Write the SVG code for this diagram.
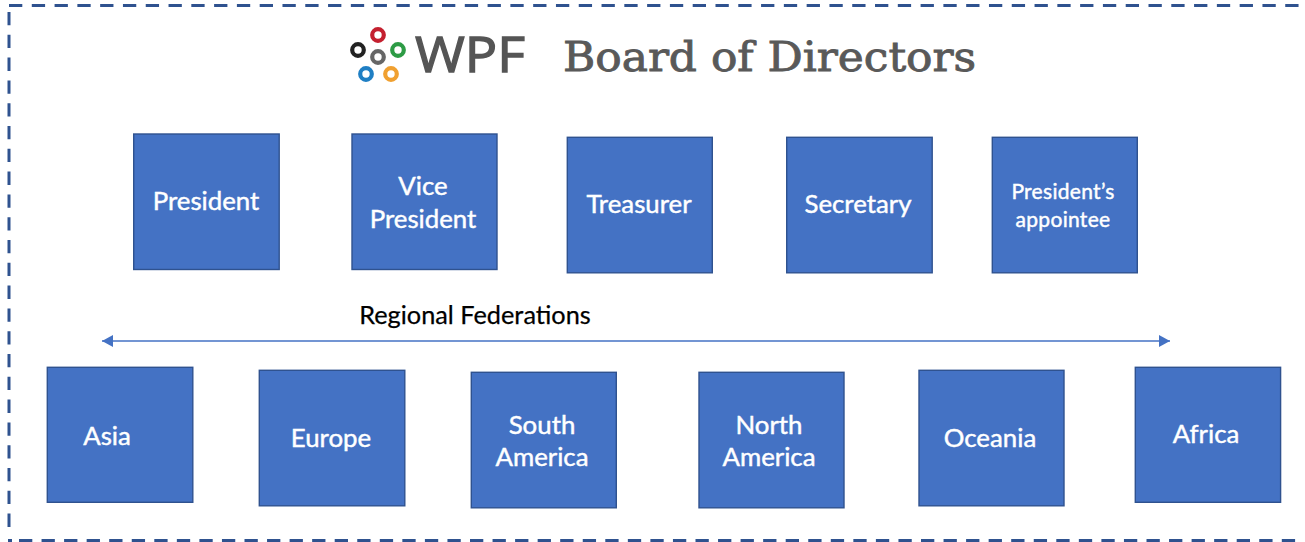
<svg xmlns="http://www.w3.org/2000/svg" width="1305" height="542" viewBox="0 0 1305 542">
<style>
.box{fill:#4472c4;stroke:#2f528f;stroke-width:1.4}
.t{font-family:"Lato","Open Sans",sans-serif;font-size:25.800px;fill:#fff;stroke:#fff;stroke-width:.45;text-anchor:middle}
.s{font-size:21px;letter-spacing:.3px}
.ring{fill:none;stroke-width:4.200}
.edge{fill:none;stroke:#2f528f;stroke-width:3}
</style>
<defs>
<marker id="a" markerUnits="userSpaceOnUse" markerWidth="12" markerHeight="12" refX="11" refY="6" orient="auto-start-reverse"><path d="M0 0L11 6L0 12z" fill="#4472c4"/></marker>
</defs>
<g id="border">
<line class="edge" x1="9" y1="5.500" x2="1299" y2="5.500" stroke-dasharray="13.300 9.490"/>
<line class="edge" x1="9" y1="12" x2="9" y2="530" stroke-dasharray="13.300 9.500"/>
<line class="edge" x1="19" y1="540.500" x2="1297" y2="540.500" stroke-dasharray="13.300 9.250"/>
<line class="edge" x1="8" y1="540.500" x2="12" y2="540.500"/>
</g>
<g id="logo">
<circle class="ring" cx="378" cy="35" r="5.800" stroke="#c4202f"/>
<circle class="ring" cx="398" cy="50" r="5.800" stroke="#2d9b45"/>
<circle class="ring" cx="358" cy="50" r="5.800" stroke="#222"/>
<circle class="ring" cx="378" cy="57" r="5.800" stroke="#666"/>
<circle class="ring" cx="366" cy="74" r="5.800" stroke="#1f7fc4"/>
<circle class="ring" cx="391" cy="74" r="5.800" stroke="#f0a030"/>
<text x="415" y="72" font-family="'Open Sans',sans-serif" font-size="50" fill="#555" stroke="#555" stroke-width="1.300" textLength="110" lengthAdjust="spacingAndGlyphs">WPF</text>
</g>
<text id="title" x="563" y="71" font-family="'DejaVu Serif',serif" font-size="41" fill="#595959" stroke="#595959" stroke-width=".9" textLength="413" lengthAdjust="spacingAndGlyphs">Board of Directors</text>
<g id="connectors"><line x1="102" y1="341" x2="1170" y2="341" stroke="#4472c4" stroke-width="1.500" marker-start="url(#a)" marker-end="url(#a)"/></g>
<text id="label" x="475" y="323.500" font-family="Lato,sans-serif" font-size="25.300" fill="#000" stroke="#000" stroke-width=".25" text-anchor="middle">Regional Federations</text>
<g id="president"><rect class="box" x="133.700" y="134" width="145.500" height="135.500"/><text class="t" x="206" y="209.700">President</text></g>
<g id="vice"><rect class="box" x="352" y="134" width="145" height="135.500"/><text class="t" x="423" y="194.700">Vice</text><text class="t" x="423" y="227.700">President</text></g>
<g id="treasurer"><rect class="box" x="567.300" y="137.300" width="145" height="135.500"/><text class="t" x="639" y="212.700">Treasurer</text></g>
<g id="secretary"><rect class="box" x="786.700" y="137.300" width="145.500" height="135.500"/><text class="t" x="858" y="212.700">Secretary</text></g>
<g id="appointee"><rect class="box" x="992.300" y="137.300" width="145" height="135.500"/><text class="t s" x="1063" y="198.500">President’s</text><text class="t s" x="1063" y="226.500">appointee</text></g>
<g id="asia"><rect class="box" x="47.300" y="367.300" width="145.500" height="135"/><text class="t" x="107" y="444.700">Asia</text></g>
<g id="europe"><rect class="box" x="259.300" y="370.300" width="145.500" height="135.500"/><text class="t" x="331" y="446.700">Europe</text></g>
<g id="south"><rect class="box" x="471.300" y="372.300" width="145" height="135.500"/><text class="t" x="542" y="433.700">South</text><text class="t" x="542" y="465.700">America</text></g>
<g id="north"><rect class="box" x="699" y="372.300" width="145" height="135.500"/><text class="t" x="769" y="433.700">North</text><text class="t" x="769" y="465.700">America</text></g>
<g id="oceania"><rect class="box" x="919" y="370.300" width="145" height="135.500"/><text class="t" x="990" y="446.700">Oceania</text></g>
<g id="africa"><rect class="box" x="1135.300" y="367.300" width="145.300" height="135"/><text class="t" x="1206" y="442.700">Africa</text></g>
</svg>
